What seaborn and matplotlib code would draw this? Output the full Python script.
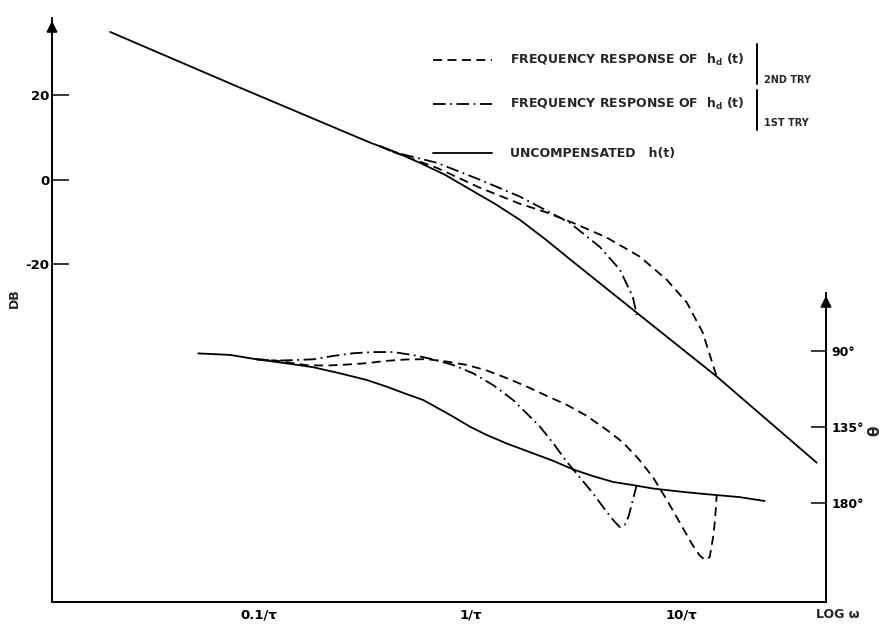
import numpy as np
import pandas as pd
import matplotlib
matplotlib.use("Agg")
import matplotlib.pyplot as plt
import seaborn as sns
from matplotlib.lines import Line2D

# Frequencies are given in decades relative to 1/tau, i.e. log10(omega * tau).
# Magnitude (dB)
mag_uncomp_logw = [-1.704, -1.090, -0.475, -0.357, -0.239, -0.121, 0.002, 0.116, 0.234,
                   0.352, 0.485, 0.787, 1.165, 1.638]
mag_uncomp_db = [35.0, 21.8, 8.8, 6.6, 4.0, 1.2, -2.4, -5.7, -9.5,
                 -14.0, -19.4, -31.5, -46.6, -67.0]

mag_try1_logw = [-0.430, -0.366, -0.158, 0.045, 0.234, 0.352, 0.470, 0.612, 0.707, 0.768, 0.787]
mag_try1_db = [8.0, 6.6, 4.0, 0.0, -4.0, -7.1, -10.2, -15.9, -21.3, -27.7, -32.0]

mag_try2_logw = [-0.430, -0.366, -0.158, 0.045, 0.234, 0.352, 0.485, 0.645, 0.801, 0.929,
                 1.024, 1.099, 1.147, 1.165]
mag_try2_db = [8.0, 6.6, 2.8, -1.9, -5.7, -7.6, -10.2, -13.7, -18.2, -23.7,
               -29.1, -36.2, -43.8, -46.6]

# Phase (degrees of lag)
ph_uncomp_logw = [-1.287, -1.137, -1.011, -0.869, -0.743, -0.617, -0.491, -0.396, -0.302,
                  -0.223, -0.160, -0.081, -0.002, 0.077, 0.171, 0.297, 0.391, 0.486,
                  0.581, 0.675, 0.770, 0.864, 0.975, 1.085, 1.274, 1.392]
ph_uncomp_deg = [91.4, 92.3, 94.9, 97.3, 99.6, 103.2, 107.1, 111.1, 115.5,
                 119.0, 123.4, 128.9, 134.8, 139.7, 144.7, 150.6, 155.0, 160.1,
                 164.1, 167.5, 169.4, 171.4, 173.0, 174.4, 176.5, 178.8]

ph_try1_logw = [-1.011, -0.916, -0.822, -0.743, -0.649, -0.554, -0.460, -0.365, -0.270,
                -0.176, -0.081, 0.013, 0.108, 0.202, 0.266, 0.329, 0.392, 0.455, 0.485,
                0.532, 0.579, 0.645, 0.683, 0.707, 0.730, 0.749, 0.768, 0.787]
ph_try1_deg = [94.9, 95.7, 95.3, 94.9, 92.9, 91.3, 90.6, 90.6, 92.4,
               94.9, 98.3, 103.2, 110.2, 119.0, 126.9, 134.8, 144.6, 155.5, 159.9,
               167.0, 174.1, 185.3, 191.2, 194.2, 193.0, 187.7, 178.2, 169.3]

ph_try2_logw = [-1.011, -0.916, -0.838, -0.774, -0.680, -0.585, -0.491, -0.396, -0.302,
                -0.207, -0.113, -0.018, 0.077, 0.171, 0.266, 0.360, 0.455, 0.549, 0.644,
                0.721, 0.794, 0.863, 0.934, 0.991, 1.050, 1.085, 1.109, 1.132, 1.151,
                1.160, 1.165]
ph_try2_deg = [94.9, 95.7, 97.2, 98.4, 98.6, 98.0, 97.2, 95.8, 95.0,
               94.8, 96.2, 98.2, 101.5, 106.0, 111.0, 116.5, 121.8, 128.3, 136.6,
               144.1, 153.7, 164.6, 179.2, 191.7, 204.7, 211.1, 213.7, 212.0, 198.0,
               185.0, 175.3]

x_ticks = [0.1, 1.0, 10.0]
x_tick_labels = ["0.1/\u03c4", "1/\u03c4", "10/\u03c4"]
db_ticks = [20, 0, -20]
db_tick_labels = ["20", "0", "-20"]
ph_ticks = [90, 135, 180]
ph_tick_labels = ["90\u00b0", "135\u00b0", "180\u00b0"]

legend_labels = ["FREQUENCY RESPONSE OF  h$_\\mathbf{d}$ (t)",
                 "FREQUENCY RESPONSE OF  h$_\\mathbf{d}$ (t)",
                 "UNCOMPENSATED   h(t)"]
legend_tags = ["2ND TRY", "1ST TRY", None]

sns.set_style("white")
plt.rcParams["font.family"] = ["DejaVu Sans"]
plt.rcParams["font.weight"] = "bold"
plt.rcParams["mathtext.fontset"] = "dejavusans"
plt.rcParams["mathtext.default"] = "bf"

W, H = 884, 629
fig = plt.figure(figsize=(W / 100, H / 100), dpi=100)
ax = fig.add_axes([52 / W, 1 - 602 / H, (826 - 52) / W, (602 - 18) / H])
ax2 = ax.twinx()


def frame(logw, vals):
    return pd.DataFrame({"w": 10.0 ** np.asarray(logw), "v": vals})


LW = 1.3
dash2 = (0, (5, 3))
dash1 = (0, (7, 2.5, 1, 2.5))

for axis, lw_, v_, ls in [
    (ax, mag_uncomp_logw, mag_uncomp_db, "-"),
    (ax, mag_try1_logw, mag_try1_db, dash1),
    (ax, mag_try2_logw, mag_try2_db, dash2),
    (ax2, ph_uncomp_logw, ph_uncomp_deg, "-"),
    (ax2, ph_try1_logw, ph_try1_deg, dash1),
    (ax2, ph_try2_logw, ph_try2_deg, dash2),
]:
    sns.lineplot(data=frame(lw_, v_), x="w", y="v", ax=axis, color="black",
                 linewidth=LW, linestyle=ls, sort=False, estimator=None)

ax.set_xscale("log")
ax.set_xlim(10 ** -1.979, 10 ** 1.682)
ax.set_ylim(-100, 38.3)
ax2.set_ylim(238.6, -107.2)

ax.set_xticks(x_ticks)
ax.set_xticklabels(x_tick_labels)
ax.xaxis.set_minor_locator(matplotlib.ticker.NullLocator())
ax.set_yticks(db_ticks)
ax.set_yticklabels(db_tick_labels)
ax2.set_yticks(ph_ticks)
ax2.set_yticklabels(ph_tick_labels)

for a in (ax, ax2):
    a.set_xlabel("")
    a.set_ylabel("")
    a.set_facecolor("none")
    for s in a.spines.values():
        s.set_color("black")
        s.set_linewidth(1.4)

ax.spines["top"].set_visible(False)
ax.spines["right"].set_visible(False)
ax2.spines["top"].set_visible(False)
ax2.spines["left"].set_visible(False)
ax2.spines["bottom"].set_visible(False)
ax2.spines["right"].set_bounds(238.6, 55.7)

ax.tick_params(axis="both", direction="in", length=12, width=1.1, colors="black",
               labelsize=9.5, pad=3)
ax.tick_params(axis="x", pad=5)
ax.tick_params(axis="y", pad=2)
ax2.tick_params(axis="y", direction="in", length=11, width=1.1, colors="black",
                labelsize=9, pad=4)

# axis arrows
arrow_kw = dict(arrowstyle="-|>", color="black", lw=1.4, mutation_scale=16)
ax.annotate("", xy=(0, 1.0), xytext=(0, 0.96), xycoords="axes fraction",
            arrowprops=arrow_kw, annotation_clip=False)
ax.annotate("", xy=(1, (602 - 293) / 584), xytext=(1, (602 - 293) / 584 - 0.04),
            xycoords="axes fraction", arrowprops=arrow_kw, annotation_clip=False)

fig.text(14 / W, 1 - 298 / H, "DB", rotation=90, ha="center", va="center", fontsize=9)
fig.text(838 / W, 1 - 614 / H, "LOG \u03c9", ha="center", va="center", fontsize=9)
fig.text(875 / W, 1 - 431 / H, "\u03b8", rotation=90, ha="center", va="center",
         fontsize=11)

# legend, drawn in figure pixels
rows_y = [60, 104, 153]
styles = [dash2, dash1, "-"]
for y, ls, label, tag in zip(rows_y, styles, legend_labels, legend_tags):
    fy = 1 - y / H
    fig.add_artist(Line2D([433 / W, 492 / W], [fy, fy], color="black", lw=LW,
                          linestyle=ls, transform=fig.transFigure))
    t = fig.text(510 / W, fy, label, ha="left", va="center", fontsize=9)
    if tag is not None:
        fig.canvas.draw()
        bb = t.get_window_extent()
        xb = bb.x1 + 12
        if tag.startswith("2"):
            y0, y1, ty = 44, 84, 80
        else:
            y0, y1, ty = 90, 130, 123
        fig.add_artist(Line2D([xb / W, xb / W], [1 - y0 / H, 1 - y1 / H], color="black",
                              lw=1.4, transform=fig.transFigure))
        fig.text((xb + 7) / W, 1 - ty / H, tag, ha="left", va="center", fontsize=7,
                 fontweight="bold")

fig.savefig("out.png", dpi=100, facecolor="white")
